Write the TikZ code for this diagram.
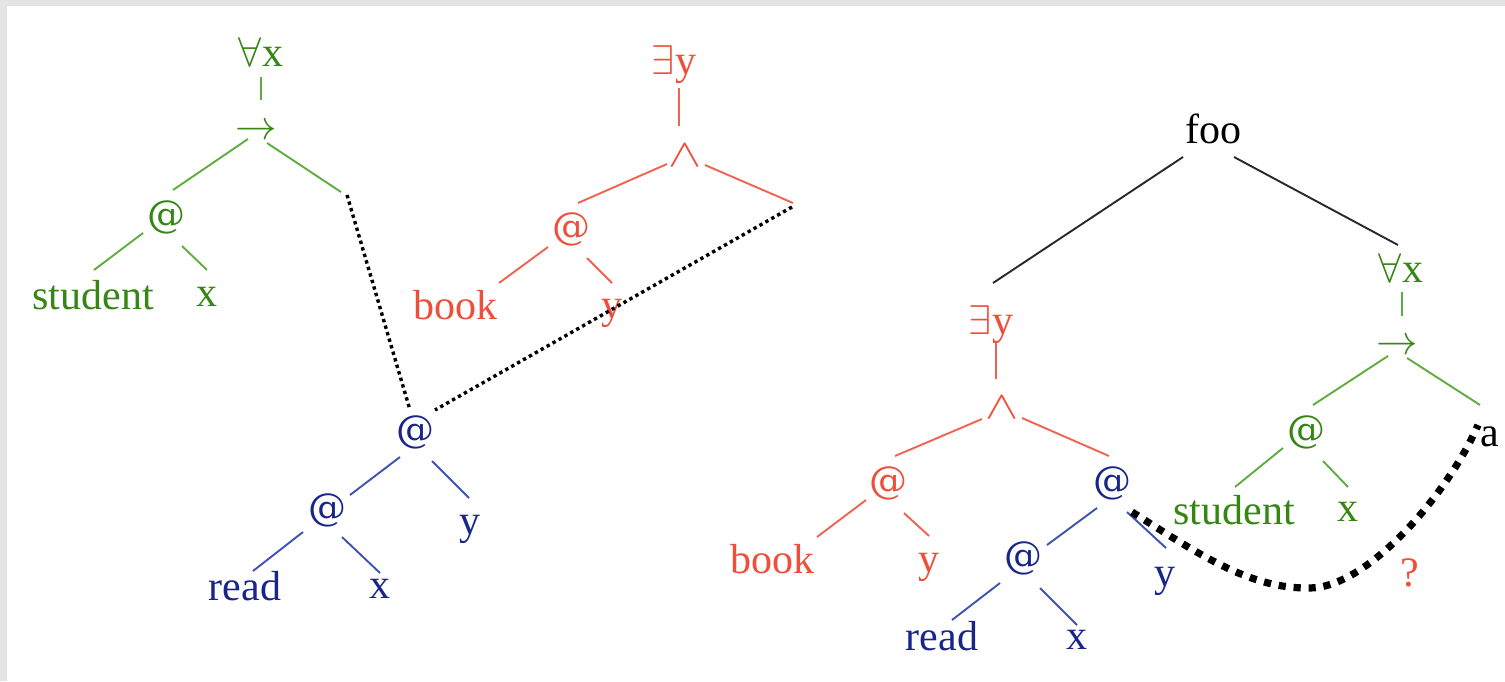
\documentclass[tikz,border=0pt]{standalone}
\usepackage{fontspec}
\setmainfont{Liberation Serif}
\newfontfamily\atfont{DejaVu Serif}
\usetikzlibrary{calc}
\definecolor{gT}{RGB}{54,134,20}
\definecolor{gL}{RGB}{96,172,64}
\definecolor{rT}{RGB}{238,78,58}
\definecolor{rL}{RGB}{240,98,82}
\definecolor{bT}{RGB}{24,38,138}
\definecolor{bL}{RGB}{62,82,178}
\definecolor{kL}{RGB}{40,40,40}
\definecolor{framegray}{RGB}{228,228,228}
\newcommand{\tedge}[5]{\draw[#1] ($(#2)+(#3)$) -- ($(#4)+(#5)$);}
\newcommand{\atsym}{{\atfont\fontsize{19}{22}\selectfont @}}
\newcommand{\andsym}{\scalebox{1.2}[0.95]{$\wedge$}}
\begin{document}
\begin{tikzpicture}[x=0.5pt,y=-0.5pt,
  lbl/.style={inner sep=0pt, font=\fontsize{21}{25}\selectfont},
  gtxt/.style={lbl,text=gT},
  rtxt/.style={lbl,text=rT},
  btxt/.style={lbl,text=bT},
  ktxt/.style={lbl,text=black},
  edge/.style={line width=0.95pt},
  gedge/.style={edge,draw=gL},
  redge/.style={edge,draw=rL},
  bedge/.style={edge,draw=bL},
  kedge/.style={edge,draw=kL},
  thindots/.style={draw=black,line width=1.7pt,dash pattern=on 1.7pt off 1.7pt},
  thickdots/.style={draw=black,line width=3.6pt,dash pattern=on 3.6pt off 3.9pt}]
\useasboundingbox (0,0) rectangle (1505,681);
\fill[white] (0,0) rectangle (1505,681);
\fill[framegray] (0,0) rectangle (1505,6);
\fill[framegray] (0,0) rectangle (7,681);

% ---- left green tree
\node[gtxt] (gA) at (261,52) {$\forall$x};
\node[gtxt] (gI) at (256,132) {$\rightarrow$};
\node[gtxt] (gAt) at (166,217) {\atsym};
\node[gtxt] (gS) at (93,295) {student};
\node[gtxt] (gX) at (207,297) {x};
\coordinate (gH) at (341,192);
\tedge{gedge}{gA}{0,25}{gI}{5,-32}
\tedge{gedge}{gI}{-8,7}{gAt}{7,-27}
\draw[gedge] ($(gI)+(11,11)$) -- (gH);
\tedge{gedge}{gAt}{-23,16}{gS}{1,-25}
\tedge{gedge}{gAt}{16,29}{gX}{0,-27}

% ---- top red tree
\node[rtxt] (rE) at (674,65) {$\exists$y};
\node[rtxt] (rW) at (685,156) {\andsym};
\node[rtxt] (rAt) at (571,229) {\atsym};
\node[rtxt] (rB) at (455,305) {book};
\node[rtxt] (rY) at (612,313) {y};
\coordinate (rH) at (793,203);
\tedge{redge}{rE}{5,23}{rW}{-6,-30}
\tedge{redge}{rW}{-18,8}{rAt}{7,-26}
\draw[redge] ($(rW)+(20,9)$) -- (rH);
\tedge{redge}{rAt}{-23,18}{rB}{44,-22}
\tedge{redge}{rAt}{16,29}{rY}{0,-30}

% ---- left blue tree
\node[btxt] (bAt1) at (415,432) {\atsym};
\node[btxt] (bAt2) at (327,510) {\atsym};
\node[btxt] (bR) at (245,586) {read};
\node[btxt] (bX) at (380,589) {x};
\node[btxt] (bY) at (470,529) {y};
\tedge{bedge}{bAt1}{-15,25}{bAt2}{23,-15}
\tedge{bedge}{bAt1}{17,29}{bY}{-1,-31}
\tedge{bedge}{bAt2}{-24,22}{bR}{8,-15}
\tedge{bedge}{bAt2}{15,27}{bX}{0,-16}

% dotted links
\draw[thindots] ($(gH)+(6,3)$) -- ($(bAt1)+(-5,-22)$);
\draw[thindots] ($(rH)+(-1,4)$) -- ($(bAt1)+(20,-22)$);

% ---- right tree
\node[ktxt] (foo) at (1213,129) {foo};
\node[rtxt] (rE2) at (991,325) {$\exists$y};
\node[rtxt] (rW2) at (1002,408) {\andsym};
\node[rtxt] (rAt2) at (888,483) {\atsym};
\node[rtxt] (rB2) at (772,559) {book};
\node[rtxt] (rY2) at (929,567) {y};
\node[btxt] (bAt3) at (1112,483) {\atsym};
\node[btxt] (bAt4) at (1023,558) {\atsym};
\node[btxt] (bR2) at (942,636) {read};
\node[btxt] (bX2) at (1077,640) {x};
\node[btxt] (bY2) at (1165,581) {y};
\node[gtxt] (gA2) at (1401,268) {$\forall$x};
\node[gtxt] (gI2) at (1397,347) {$\rightarrow$};
\node[gtxt] (gAt2) at (1306,432) {\atsym};
\node[gtxt] (gS2) at (1234,510) {student};
\node[gtxt] (gX2) at (1348,512) {x};
\node[ktxt] (aa) at (1490,437) {a};
\node[rtxt] (qq) at (1410,573) {?};

\tedge{kedge}{foo}{-30,28}{rE2}{2,-42}
\tedge{kedge}{foo}{21,28}{gA2}{-3,-23}
\tedge{redge}{rE2}{5,18}{rW2}{-6,-29}
\tedge{redge}{rW2}{-20,11}{rAt2}{7,-27}
\tedge{redge}{rW2}{20,10}{bAt3}{-3,-27}
\tedge{redge}{rAt2}{-22,17}{rB2}{45,-22}
\tedge{redge}{rAt2}{16,30}{rY2}{0,-31}
\tedge{bedge}{bAt3}{-15,25}{bAt4}{24,-13}
\tedge{bedge}{bAt3}{15,29}{bY2}{1,-33}
\tedge{bedge}{bAt4}{-23,25}{bR2}{10,-16}
\tedge{bedge}{bAt4}{17,30}{bX2}{0,-15}
\tedge{gedge}{gA2}{1,24}{gI2}{5,-31}
\tedge{gedge}{gI2}{-9,9}{gAt2}{7,-27}
\tedge{gedge}{gI2}{10,11}{aa}{-10,-32}
\tedge{gedge}{gAt2}{-23,16}{gS2}{1,-23}
\tedge{gedge}{gAt2}{17,29}{gX2}{0,-25}

% thick dotted curve
\draw[thickdots] ($(bAt3)+(20,29)$) .. controls (1200,555) and (1250,589) .. (1310,588)
  .. controls (1370,587) and (1450,490) .. ($(aa)+(-12,-12)$);
\end{tikzpicture}
\end{document}
